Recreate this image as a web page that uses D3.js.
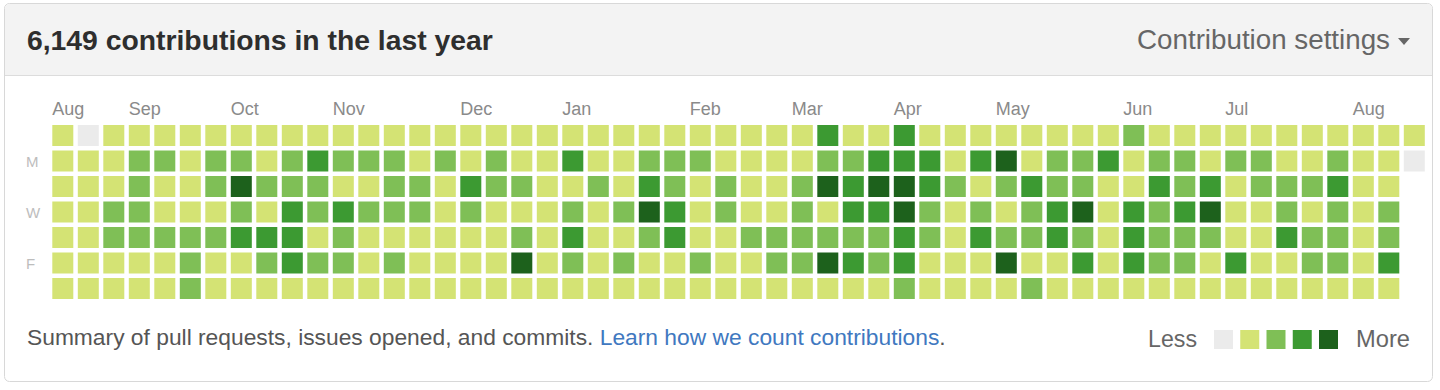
<!DOCTYPE html>
<html>
<head>
<meta charset="utf-8">
<script src="https://cdn.jsdelivr.net/npm/d3@7"></script>
<style>
  body { margin: 0; background: #fff; }
  svg { display: block; font-family: "Liberation Sans", Helvetica, Arial, sans-serif; }
</style>
</head>
<body>
<svg id="chart" width="1440" height="390"></svg>
<script>
// Contribution level per week (columns), Sun..Sat; 0 = none, 4 = most
const weeks = [
  [1,1,1,1,1,1,1], [0,1,1,1,1,1,1], [1,1,1,2,2,1,1], [1,2,2,2,2,1,1],
  [1,2,1,1,2,1,1], [1,1,1,1,2,2,2], [1,2,2,1,2,1,1], [1,2,4,2,3,1,1],
  [1,1,2,1,3,2,1], [1,2,2,3,3,3,1], [1,3,2,2,1,2,1], [1,2,1,3,2,2,1],
  [1,2,1,2,1,1,1], [1,2,2,2,1,2,1], [1,1,2,2,1,1,1], [1,2,1,1,1,1,1],
  [1,1,3,2,1,1,1], [1,2,2,1,1,1,1], [1,1,2,1,2,4,1], [1,1,1,1,1,1,1],
  [1,3,1,2,3,2,1], [1,1,2,1,1,1,1], [1,1,1,2,1,2,1], [1,2,3,4,2,1,1],
  [1,2,2,3,3,1,1], [1,2,1,1,1,2,1], [1,1,2,2,1,1,1], [1,1,1,1,2,1,1],
  [1,1,1,1,2,2,1], [1,1,2,2,2,2,1], [3,2,4,1,2,4,1], [1,2,3,3,2,3,1],
  [1,3,4,3,2,2,1], [3,3,4,4,3,3,2], [1,3,3,2,2,1,1], [1,1,2,1,1,1,1],
  [1,3,1,2,3,1,1], [1,4,2,1,2,4,1], [1,1,3,2,2,1,2], [1,2,2,3,3,1,1],
  [1,2,2,4,2,3,1], [1,3,1,1,1,1,1], [2,1,1,3,3,3,1], [1,2,3,2,2,2,1],
  [1,2,2,3,2,2,1], [1,1,3,4,2,1,1], [1,2,1,1,1,3,1], [1,2,2,1,1,1,1],
  [1,1,2,2,3,1,1], [1,1,2,1,2,2,1], [1,2,3,2,2,2,1], [1,1,1,1,1,1,1],
  [1,1,1,2,2,3,1], [1,0]
];

const monthLabels = ['Aug','Sep','Oct','Nov','Dec','Jan','Feb','Mar','Apr','May','Jun','Jul','Aug'];
const monthWeeks = [0, 3, 7, 11, 16, 20, 25, 29, 33, 37, 42, 46, 51];
const dayLabels = ['', 'M', '', 'W', '', 'F', ''];
const levelColors = ['#ebebeb', '#d4e374', '#7fbf56', '#3c9a32', '#1d611c'];

const svg = d3.select('#chart');

// helper: set font size so text fills a measured width
function fitText(sel, width) {
  const w = sel.node().getComputedTextLength();
  const fs = parseFloat(sel.style('font-size'));
  sel.style('font-size', (fs * width / w) + 'px');
  return sel;
}

// Box + header
svg.append('rect')
  .attr('x', 4.5).attr('y', 3.5).attr('width', 1428).attr('height', 378).attr('rx', 5)
  .attr('fill', '#fff').attr('stroke', '#d8d8d8');
svg.append('path')
  .attr('d', 'M5,75 V9 Q5,4 10,4 H1427 Q1432,4 1432,9 V75 Z')
  .attr('fill', '#f3f3f3');
svg.append('line')
  .attr('x1', 5).attr('x2', 1432).attr('y1', 75.5).attr('y2', 75.5)
  .attr('stroke', '#dcdcdc');

fitText(svg.append('text')
  .attr('x', 27).attr('y', 50)
  .attr('fill', '#2e2e2e').style('font-weight', 'bold').style('font-size', '24px')
  .text('6,149 contributions in the last year'), 466);

const settings = svg.append('text')
  .attr('x', 1390).attr('y', 49).attr('text-anchor', 'end')
  .attr('fill', '#666').style('font-size', '22px')
  .text('Contribution settings');
fitText(settings, 253);
svg.append('path')
  .attr('d', 'M1398,38 L1410,38 L1404,45 Z')
  .attr('fill', '#666');

// Grid scales
const cell = 21;
const x = d3.scaleLinear().domain([0, weeks.length]).range([52.3, 52.3 + weeks.length * 25.5]);
const y = d3.scaleLinear().domain([0, 7]).range([125, 125 + 7 * 25.5]);
const color = d3.scaleOrdinal().domain([0, 1, 2, 3, 4]).range(levelColors);

svg.append('g')
  .selectAll('text')
  .data(monthLabels)
  .join('text')
  .attr('x', (d, i) => x(monthWeeks[i]))
  .attr('y', 115)
  .attr('fill', '#8a8a8a')
  .style('font-size', '18px')
  .text(d => d);

svg.append('g')
  .selectAll('text')
  .data(dayLabels)
  .join('text')
  .attr('x', 26)
  .attr('y', (d, i) => y(i) + 16)
  .attr('fill', '#bdbdbd')
  .style('font-size', '15px')
  .text(d => d);

const cols = svg.append('g')
  .selectAll('g')
  .data(weeks)
  .join('g')
  .attr('transform', (d, i) => `translate(${x(i)},0)`);

cols.selectAll('rect')
  .data(d => d)
  .join('rect')
  .attr('x', 0)
  .attr('y', (d, i) => y(i))
  .attr('width', cell)
  .attr('height', cell)
  .attr('fill', d => color(d));

// Footer
const foot = svg.append('text')
  .attr('x', 27).attr('y', 345)
  .attr('fill', '#555').style('font-size', '18px');
foot.append('tspan').text('Summary of pull requests, issues opened, and commits. ');
foot.append('tspan').attr('fill', '#4078c0').text('Learn how we count contributions');
foot.append('tspan').text('.');
fitText(foot, 919);

fitText(svg.append('text')
  .attr('x', 1148).attr('y', 347)
  .attr('fill', '#666').style('font-size', '20px')
  .text('Less'), 49);
fitText(svg.append('text')
  .attr('x', 1356).attr('y', 347)
  .attr('fill', '#666').style('font-size', '20px')
  .text('More'), 54);

const lx = d3.scaleLinear().domain([0, 4]).range([1214, 1319]);
svg.append('g')
  .selectAll('rect')
  .data(levelColors)
  .join('rect')
  .attr('x', (d, i) => lx(i))
  .attr('y', 330)
  .attr('width', 19)
  .attr('height', 19)
  .attr('fill', d => d);
</script>
</body>
</html>
